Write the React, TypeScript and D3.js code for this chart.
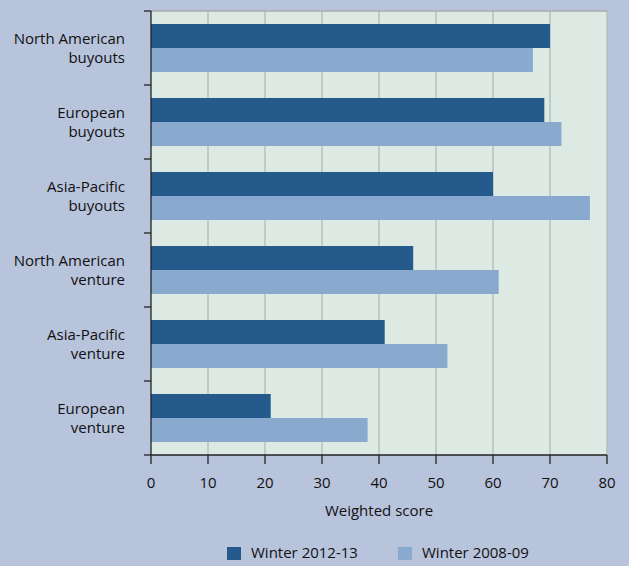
import React from "react";
import * as d3 from "d3";

const categories = [
  ["North American", "buyouts"],
  ["European", "buyouts"],
  ["Asia-Pacific", "buyouts"],
  ["North American", "venture"],
  ["Asia-Pacific", "venture"],
  ["European", "venture"],
];
const winter2012 = [70, 69, 60, 46, 41, 21];
const winter2008 = [67, 72, 77, 61, 52, 38];
const xTicks = [0, 10, 20, 30, 40, 50, 60, 70, 80];
const seriesNames = ["Winter 2012-13", "Winter 2008-09"];

const W = 629, H = 566;
const left = 151, right = 607, top = 11, bottom = 455;
const DARK = "#245a8c", LIGHT = "#8aa9cf";
const FONT = "'Open Sans', sans-serif";
const FS = 15;

export default function App() {
  const x = d3.scaleLinear().domain([0, 80]).range([left, right]);
  const y = d3.scaleBand<number>().domain(d3.range(categories.length)).range([top, bottom]);
  const inner = d3.scaleBand<number>().domain([0, 1]).range([13, y.bandwidth() - 13]);
  const series = [winter2012, winter2008];
  const colors = [DARK, LIGHT];
  return (
    <svg width={W} height={H} style={{ position: "absolute", left: 0, top: 0, display: "block" }}>
      <rect width={W} height={H} fill="#b8c3dc" />
      <rect x={left} y={top} width={right - left} height={bottom - top} fill="#ddeae3" />
      {xTicks.slice(1).map((t) => (
        <line key={t} x1={x(t)} x2={x(t)} y1={top} y2={bottom} stroke="#b3b9b6" strokeWidth={1.3} />
      ))}
      <line x1={left} x2={right} y1={top} y2={top} stroke="#a6abb0" strokeWidth={1.3} />
      {series.map((vals, si) =>
        vals.map((v, i) => (
          <rect key={si + "-" + i} x={x(0)} y={(y(i) as number) + (inner(si) as number)} width={x(v) - x(0)} height={inner.bandwidth()} fill={colors[si]} />
        ))
      )}
      <line x1={left} x2={left} y1={top} y2={bottom} stroke="#222" strokeWidth={1.3} />
      <line x1={left} x2={right} y1={bottom} y2={bottom} stroke="#222" strokeWidth={1.3} />
      {d3.range(categories.length + 1).map((i) => {
        const yy = top + i * y.step();
        return <line key={i} x1={left - 7} x2={left} y1={yy} y2={yy} stroke="#222" strokeWidth={1.3} />;
      })}
      {xTicks.map((t) => (
        <g key={t}>
          <line x1={x(t)} x2={x(t)} y1={bottom} y2={bottom + 9} stroke="#222" strokeWidth={1.3} />
          <text x={x(t)} y={488} textAnchor="middle" fontFamily={FONT} fontSize={FS} fill="#111">{t}</text>
        </g>
      ))}
      {categories.map((c, i) => {
        const cy = (y(i) as number) + y.bandwidth() / 2;
        return (
          <g key={i}>
            <text x={125} y={cy - 4} textAnchor="end" fontFamily={FONT} fontSize={FS} fill="#111">{c[0]}</text>
            <text x={125} y={cy + 15} textAnchor="end" fontFamily={FONT} fontSize={FS} fill="#111">{c[1]}</text>
          </g>
        );
      })}
      <text x={(left + right) / 2} y={516} textAnchor="middle" fontFamily={FONT} fontSize={FS} fill="#111">Weighted score</text>
      {seriesNames.map((n, i) => {
        const lx = i === 0 ? 227 : 398;
        return (
          <g key={n}>
            <rect x={lx} y={547} width={14} height={13} fill={colors[i]} />
            <text x={lx + 24} y={558} fontFamily={FONT} fontSize={FS} fill="#111">{n}</text>
          </g>
        );
      })}
    </svg>
  );
}
